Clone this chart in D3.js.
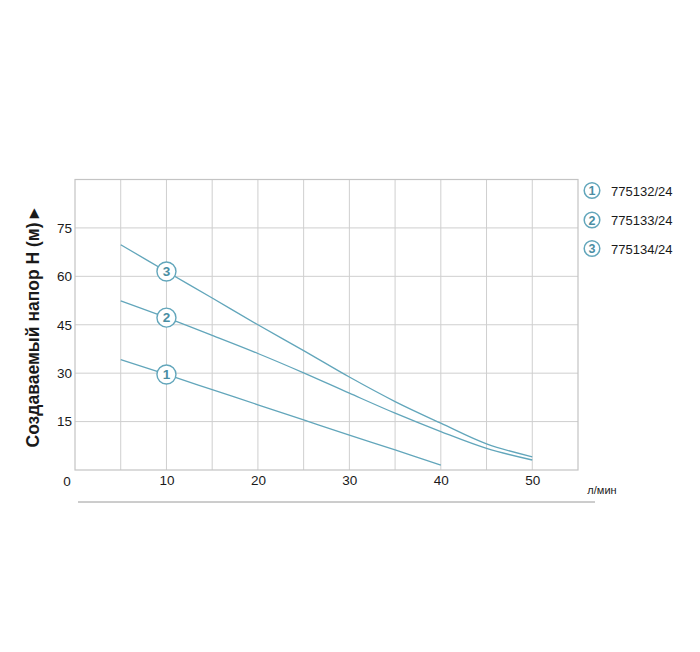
<!DOCTYPE html>
<html><head><meta charset="utf-8">
<script src="https://cdn.jsdelivr.net/npm/d3@7"></script>
<style>body{margin:0;background:#fff;}svg{display:block;font-family:"Liberation Sans",Arial,sans-serif;}</style>
</head><body>
<svg id="c" width="700" height="652"></svg>
<script>
const flow = [5, 10, 15, 20, 25, 30, 35, 40, 45, 50];
const s1 = [34.2, 29.6, 24.9, 20.2, 15.5, 10.8, 6.2, 1.5];
const s2 = [52.4, 47.2, 41.7, 36.1, 30.1, 23.8, 17.6, 11.9, 6.7, 3.1];
const s3 = [69.8, 61.5, 53.3, 45.0, 37.0, 28.8, 21.2, 14.5, 8.1, 4.1];
const seriesNames = ["775132/24", "775133/24", "775134/24"];
const yTicks = [15, 30, 45, 60, 75];
const xTicks = [10, 20, 30, 40, 50];
const xGrid = [5, 10, 15, 20, 25, 30, 35, 40, 45, 50];
const yTitle = "Создаваемый напор Н (м) ▸";
const xUnit = "л/мин";

const col = "#62a6bb", grid = "#cfcfcf", txt = "#1a1a1a", numCol = "#4a8ea3";
const svg = d3.select("#c");
const x = d3.scaleLinear().domain([0, 55]).range([75, 578]);
const y = d3.scaleLinear().domain([0, 90]).range([470, 179.5]);

// grid
svg.append("g").selectAll("line").data(xGrid).join("line")
  .attr("x1", d => x(d)).attr("x2", d => x(d)).attr("y1", y(0)).attr("y2", y(90))
  .attr("stroke", grid).attr("stroke-width", 1);
svg.append("g").selectAll("line").data(yTicks).join("line")
  .attr("x1", x(0)).attr("x2", x(55)).attr("y1", d => y(d)).attr("y2", d => y(d))
  .attr("stroke", grid).attr("stroke-width", 1);
svg.append("rect").attr("x", x(0)).attr("y", y(90)).attr("width", x(55) - x(0)).attr("height", y(0) - y(90))
  .attr("fill", "none").attr("stroke", "#c4c4c4").attr("stroke-width", 1.2);

// axes labels
const ya = svg.append("g").attr("transform", `translate(${x(0)},0)`)
  .call(d3.axisLeft(y).tickValues(yTicks).tickSize(0).tickPadding(3));
ya.select(".domain").remove();
ya.selectAll("text").attr("font-size", 13.5).attr("fill", txt).style("font-family", "Liberation Sans, Arial, sans-serif");
const xa = svg.append("g").attr("transform", `translate(0,${y(0)})`)
  .call(d3.axisBottom(x).tickValues(xTicks).tickSize(0).tickPadding(5));
xa.select(".domain").remove();
xa.selectAll("text").attr("font-size", 13.5).attr("fill", txt).style("font-family", "Liberation Sans, Arial, sans-serif");
svg.append("text").attr("x", x(0) - 8).attr("y", y(0) + 15.5).attr("text-anchor", "middle")
  .attr("font-size", 13.5).attr("fill", txt).text("0");

svg.append("text").attr("x", 602).attr("y", 494).attr("text-anchor", "middle")
  .attr("font-size", 11).attr("fill", txt).text(xUnit);
svg.append("line").attr("x1", 78).attr("x2", 595).attr("y1", 502).attr("y2", 502)
  .attr("stroke", "#9a9a9a").attr("stroke-width", 1);

svg.append("text").attr("transform", `translate(39,328) rotate(-90)`).attr("text-anchor", "middle")
  .attr("font-size", 17.5).attr("font-weight", "bold").attr("fill", txt).text(yTitle);

// curves
const all = [s1, s2, s3];
const line = d3.line().x((d, i) => x(flow[i])).y(d => y(d)).curve(d3.curveCatmullRom.alpha(0.5));
all.forEach(s => {
  svg.append("path").attr("d", line(s)).attr("fill", "none").attr("stroke", col).attr("stroke-width", 1.3);
});
all.forEach((s, k) => {
  const cx = x(flow[1]), cy = y(s[1]);
  svg.append("circle").attr("cx", cx).attr("cy", cy).attr("r", 9.5)
    .attr("fill", "#fff").attr("stroke", col).attr("stroke-width", 1.4);
  svg.append("text").attr("x", cx).attr("y", cy + 4.8).attr("text-anchor", "middle")
    .attr("font-size", 13.5).attr("font-weight", "bold").attr("fill", numCol).text(k + 1);
});

// legend
const ly = [190.5, 220, 248.5];
seriesNames.forEach((n, k) => {
  svg.append("circle").attr("cx", 592).attr("cy", ly[k]).attr("r", 7.8)
    .attr("fill", "#fff").attr("stroke", col).attr("stroke-width", 1.5);
  svg.append("text").attr("x", 592).attr("y", ly[k] + 4.5).attr("text-anchor", "middle")
    .attr("font-size", 12.5).attr("font-weight", "bold").attr("fill", numCol).text(k + 1);
  svg.append("text").attr("x", 611).attr("y", ly[k] + 5).attr("font-size", 13).attr("fill", txt).text(n);
});
</script>
</body></html>
